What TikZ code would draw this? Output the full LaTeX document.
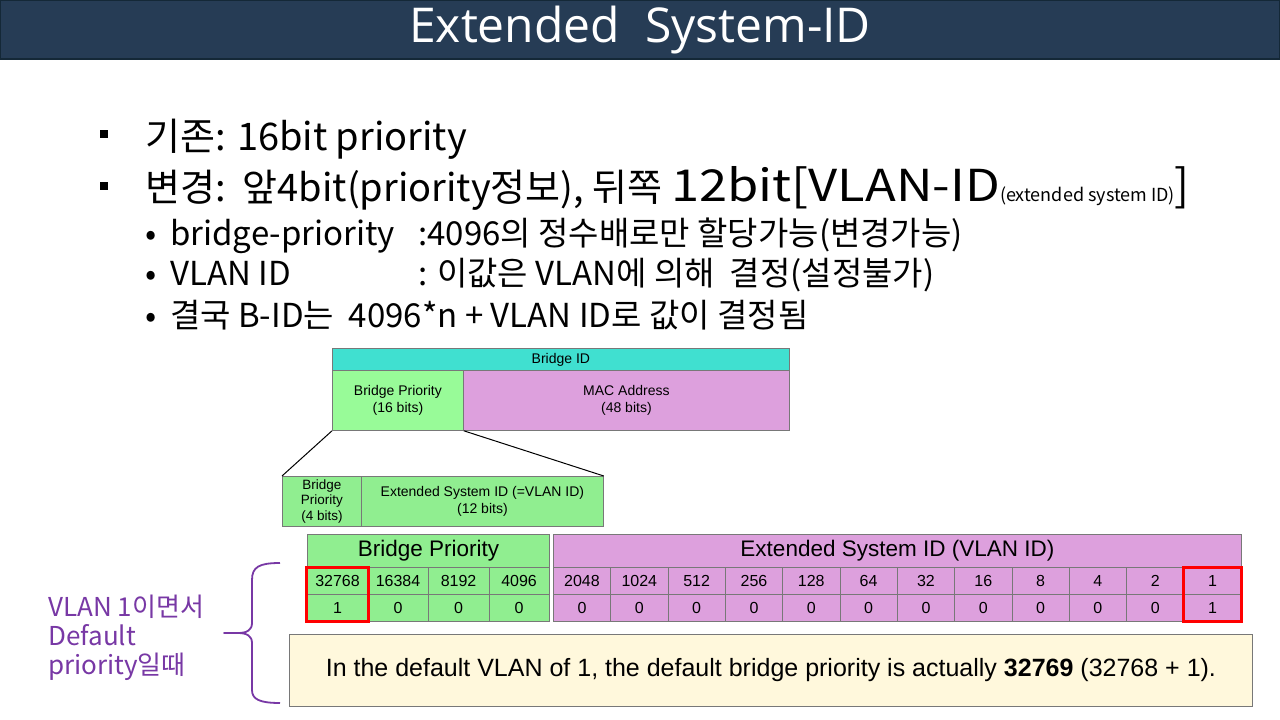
\documentclass[tikz,border=0pt]{standalone}
\usepackage{fontspec}
\setmainfont{Liberation Sans}
\newfontfamily\kr{Noto Sans CJK KR}
\newfontfamily\krw[FakeStretch=1.15]{Noto Sans CJK KR}
\newfontfamily\ttl{Open Sans}
\usetikzlibrary{calc}
\definecolor{navy}{RGB}{38,60,85}
\definecolor{navyline}{RGB}{20,40,55}
\definecolor{turq}{RGB}{64,224,208}
\definecolor{pgreen}{RGB}{152,251,152}
\definecolor{lgreen}{RGB}{144,238,144}
\definecolor{plum}{RGB}{221,160,221}
\definecolor{cream}{RGB}{255,248,220}
\definecolor{purp}{RGB}{120,56,165}
\definecolor{cellline}{RGB}{120,120,120}
\tikzset{
  box/.style={draw=cellline, line width=0.8pt, inner sep=0pt, anchor=north west, align=center, font=\fontsize{14}{16.5}\selectfont},
  cell/.style={draw=cellline, line width=0.6pt, inner sep=0pt, anchor=north west, minimum height=27pt, font=\fontsize{16}{18}\selectfont},
  hdr/.style={draw=cellline, line width=0.8pt, inner sep=0pt, anchor=north west, minimum height=33pt, font=\fontsize{22.5}{26}\selectfont},
  bigtxt/.style={anchor=base west, inner sep=0pt, font=\kr\fontsize{38}{44}\selectfont},
  subtxt/.style={anchor=base west, inner sep=0pt, font=\kr\fontsize{33}{38}\selectfont},
  redbox/.style={draw=red, line width=3pt},
}
\begin{document}
\begin{tikzpicture}[x=1pt,y=-1pt]
\useasboundingbox (0,0) rectangle (1280,720);
\fill[white] (0,0) rectangle (1280,720);
% title bar
\filldraw[fill=navy, draw=navyline, line width=2pt] (0,0) rectangle (1280,59);
\node[text=white, font=\ttl\fontsize{48}{54}\selectfont, inner sep=0pt] (title) at (640,30) {Extended\ \ System-ID};
% bullets
\node[fill=black, minimum size=8pt, inner sep=0pt] (b1) at (104,134) {};
\node[fill=black, minimum size=8pt, inner sep=0pt] (b2) at (104,186) {};
\node[bigtxt] (t1) at (145,150) {기존: 16bit priority};
\node[bigtxt] (t2) at (145,201) {변경:\ \ 앞4bit(priority정보), 뒤쪽 {\krw\fontsize{44}{50}\selectfont 12bit[VLAN-ID}{\fontsize{18}{22}\selectfont(extended system ID)}{\fontsize{44}{50}\selectfont]}};
\node[subtxt] (d1) at (145,245) {•};
\node[subtxt] (s1) at (170,245) {bridge-priority};
\node[subtxt] (s1b) at (418,245) {:4096의 정수배로만 할당가능(변경가능)};
\node[subtxt] (d2) at (145,285) {•};
\node[subtxt] (s2) at (170,285) {VLAN ID};
\node[subtxt] (s2b) at (418,285) {: 이값은 VLAN에 의해\ \ 결정(설정불가)};
\node[subtxt] (d3) at (145,327) {•};
\node[subtxt] (s3) at (170,327) {결국 B-ID는\ \ 4096*n + VLAN ID로 값이 결정됨};
% bridge id diagram
\node[box, fill=turq, minimum width=457pt, minimum height=22pt] (bid) at (332,348) {Bridge ID};
\node[box, fill=pgreen, minimum width=131pt, minimum height=60pt] (bp16) at (332,370) {Bridge Priority\\(16 bits)};
\node[box, fill=plum, minimum width=326pt, minimum height=60pt] (mac) at (463,370) {MAC Address\\(48 bits)};
\node[box, fill=lgreen, minimum width=79pt, minimum height=50pt, font=\fontsize{13.5}{15.5}\selectfont] (bp4) at (282,476) {Bridge\\Priority\\(4 bits)};
\node[box, fill=lgreen, minimum width=242pt, minimum height=50pt] (esid) at (361,476) {Extended System ID (=VLAN ID)\\(12 bits)};
\draw[line width=1pt] (bp16.south west) -- (bp4.north west);
\draw[line width=1pt] (bp16.south east) -- (esid.north east);
% table
\node[hdr, fill=lgreen, minimum width=242pt] (ghdr) at (307,534) {\raisebox{-3pt}{Bridge Priority}};
\foreach \v [count=\i from 0] in {32768,16384,8192,4096}{
  \node[cell, fill=lgreen, minimum width=60.5pt] (gt\i) at ({307+60.5*\i},567) {\v};
}
\foreach \v [count=\i from 0] in {1,0,0,0}{
  \node[cell, fill=lgreen, minimum width=60.5pt] (gb\i) at ({307+60.5*\i},594) {\v};
}
\node[hdr, fill=plum, minimum width=688pt] (phdr) at (553,534) {\raisebox{-3pt}{Extended System ID (VLAN ID)}};
\foreach \v [count=\i from 0] in {2048,1024,512,256,128,64,32,16,8,4,2,1}{
  \node[cell, fill=plum, minimum width=57.33pt] (pt\i) at ({553+57.33*\i},567) {\v};
}
\foreach \v [count=\i from 0] in {0,0,0,0,0,0,0,0,0,0,0,1}{
  \node[cell, fill=plum, minimum width=57.33pt] (pb\i) at ({553+57.33*\i},594) {\v};
}
\draw[redbox] ($(gt0.north west)+(-1,0)$) rectangle ($(gb0.south east)+(0,0)$);
\draw[redbox] ($(pt11.north west)+(0,0)$) rectangle ($(pb11.south east)+(0,0)$);
% note
\node[draw=cellline, line width=0.8pt, fill=cream, anchor=north west, minimum width=963pt, minimum height=72pt, inner sep=0pt, font=\fontsize{25}{28}\selectfont] (note) at (289,634) {\raisebox{-4pt}{In the default VLAN of 1, the default bridge priority is actually \textbf{32769} (32768 + 1).}};
% brace and label
\coordinate (bt) at (280,563);
\coordinate (bb) at (280,703);
\coordinate (tip) at (224,633);
\draw[purp, line width=1.8pt, line join=round]
  (bt) .. controls (259,563) and (252,567) .. (252,580) -- (252,623)
  .. controls (252,630) and (247,633) .. (238,633) -- (tip) -- (238,633)
  .. controls (247,633) and (252,636) .. (252,643) -- (252,690)
  .. controls (252,699) and (259,703) .. (bb);
\node[anchor=north west, inner sep=0pt, text=purp, align=left, font=\kr\fontsize{26}{29}\selectfont] (lbl) at (48,595) {VLAN 1이면서\\Default\\priority일때};
\end{tikzpicture}
\end{document}
